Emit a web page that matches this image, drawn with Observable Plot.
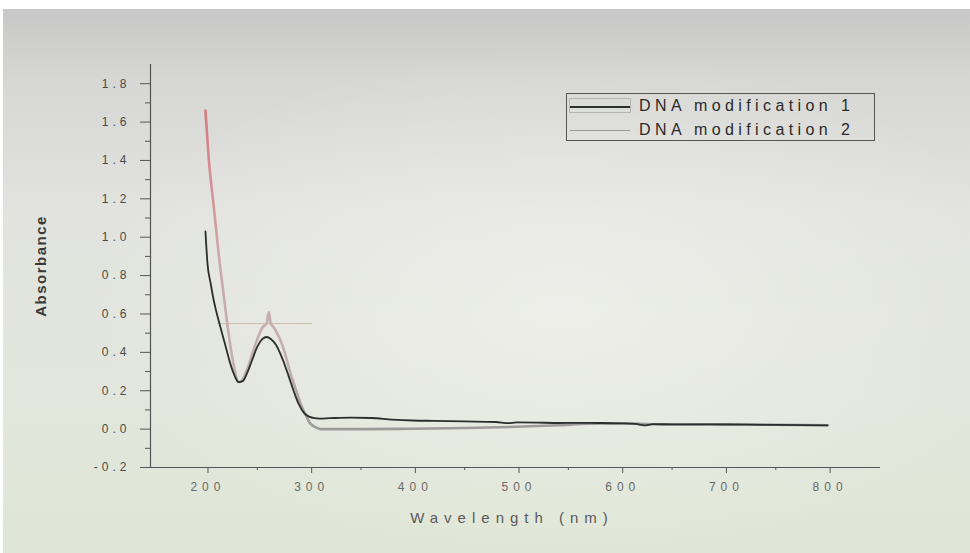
<!DOCTYPE html>
<html>
<head>
<meta charset="utf-8">
<script src="https://cdn.jsdelivr.net/npm/d3@7"></script>
<script src="https://cdn.jsdelivr.net/npm/@observablehq/plot@0.6"></script>
<style>
  html, body { margin: 0; padding: 0; }
  #wrap {
    position: relative; width: 970px; height: 553px; overflow: hidden;
    background:
      radial-gradient(ellipse at 58% 55%, rgba(250,250,246,0.45) 0%, rgba(250,250,246,0) 60%),
      linear-gradient(180deg, #c5c6c5 0%, #d6d7d4 14%, #e2e3df 38%, #e2e6dc 72%, #dfe6d6 100%);
    font-family: "Liberation Sans", Arial, sans-serif;
  }
  #topband { position: absolute; left: 0; top: 0; width: 970px; height: 9px; background: #fff; }
  #leftband { position: absolute; left: 0; top: 0; width: 3px; height: 553px; background: #fff; }
  #chart { position: absolute; left: 0; top: 0; }
  #chart svg { background: transparent; }
  #chart [aria-label="x-axis tick label"] text { fill: #6a6a6a; letter-spacing: 5px; }
  #chart [aria-label="y-axis tick label"] text { fill: #4a4a4a; letter-spacing: 4px; }
  #chart [aria-label="x-axis tick"], #chart [aria-label="y-axis tick"] { stroke: #555; }
  #ylabel {
    position: absolute; left: 40px; top: 266px; transform: translate(-50%, -50%) rotate(-90deg);
    font-size: 15px; font-weight: bold; color: #3a3a3a; letter-spacing: 1.5px; white-space: nowrap;
  }
  #xlabel {
    position: absolute; left: 512px; top: 517px; transform: translate(-50%, -50%);
    font-size: 15px; color: #5a5a5a; letter-spacing: 6px; white-space: nowrap;
  }
  #legend {
    position: absolute; left: 566px; top: 93px; width: 309px; height: 48px;
    border: 1px solid #555; box-sizing: border-box;
  }
  .row { position: absolute; left: 0; height: 20px; width: 100%; }
  .sw { position: absolute; left: 3px; width: 60px; top: 50%; }
  .lab { position: absolute; left: 72px; top: 0; font-size: 16px; line-height: 20px; color: #2a2a2a; letter-spacing: 4.4px; white-space: nowrap; }
</style>
</head>
<body>
<div id="wrap">
  <div id="topband"></div>
  <div id="leftband"></div>
  <div id="chart"></div>
  <div id="ylabel"></div>
  <div id="xlabel"></div>
  <div id="legend"></div>
</div>
<script>
// ---- data ----
const seriesNames = ["DNA modification 1", "DNA modification 2"];
const xTitle = "Wavelength (nm)";
const yTitle = "Absorbance";

const wavelength1 = [200, 202, 205, 208, 212, 216, 220, 224, 228, 232, 236, 240, 245, 250, 255, 259, 263, 268, 274, 280, 285, 290, 295, 300, 305, 310, 320, 340, 360, 380, 400, 420, 450, 480, 492, 500, 520, 540, 560, 580, 600, 615, 623, 632, 650, 680, 700, 750, 800];
const absorbance1 = [1.03, 0.86, 0.76, 0.67, 0.58, 0.50, 0.42, 0.34, 0.28, 0.245, 0.25, 0.29, 0.36, 0.43, 0.47, 0.48, 0.47, 0.44, 0.37, 0.28, 0.20, 0.13, 0.085, 0.065, 0.057, 0.055, 0.057, 0.06, 0.058, 0.05, 0.045, 0.043, 0.04, 0.037, 0.031, 0.035, 0.034, 0.032, 0.033, 0.032, 0.03, 0.027, 0.019, 0.026, 0.025, 0.025, 0.024, 0.022, 0.02];

const wavelength2 = [200, 203, 208, 213, 218, 222, 227, 232, 236, 240, 245, 250, 255, 259, 261, 263, 266, 270, 274, 278, 282, 287, 292, 297, 301, 306, 311, 350, 400, 450, 500, 540, 570, 600, 650, 700, 750, 800];
const absorbance2 = [1.66, 1.42, 1.16, 0.90, 0.68, 0.51, 0.34, 0.245, 0.26, 0.31, 0.39, 0.47, 0.53, 0.55, 0.61, 0.55, 0.53, 0.49, 0.44, 0.37, 0.29, 0.21, 0.13, 0.07, 0.03, 0.01, 0.0, 0.0, 0.002, 0.006, 0.012, 0.02, 0.028, 0.03, 0.024, 0.025, 0.023, 0.02];

// faint horizontal trace at the peak level
const peakTrace = [{y: 0.55, x1: 212, x2: 303}];

const xDomain = [147, 851];
const yDomain = [-0.2, 1.9];
const xTicks = [200, 300, 400, 500, 600, 700, 800];
const xMinorTicks = [250, 350, 450, 550, 650, 750];
const yTicks = [-0.2, 0.0, 0.2, 0.4, 0.6, 0.8, 1.0, 1.2, 1.4, 1.6, 1.8];
const yMinorTicks = [-0.1, 0.1, 0.3, 0.5, 0.7, 0.9, 1.1, 1.3, 1.5, 1.7];

const s1 = wavelength1.map((w, i) => ({w, a: absorbance1[i]}));
const s2 = wavelength2.map((w, i) => ({w, a: absorbance2[i]}));

const plot = Plot.plot({
  width: 970,
  height: 553,
  marginLeft: 150,
  marginRight: 90,
  marginTop: 64,
  marginBottom: 86,
  x: {domain: xDomain},
  y: {domain: yDomain},
  style: {background: "transparent", fontFamily: "'Liberation Sans', Arial, sans-serif"},
  marks: [
    Plot.ruleY(peakTrace, {y: "y", x1: "x1", x2: "x2", stroke: "#cbc2aa", strokeWidth: 1}),
    Plot.line(s2, {x: "w", y: "a", stroke: "url(#s2grad)", strokeWidth: 2.6, curve: "monotone-x"}),
    Plot.line(s1, {x: "w", y: "a", stroke: "#2a2f2c", strokeWidth: 1.8, curve: "monotone-x"}),
    Plot.axisX({ticks: xTicks, tickSize: 6, tickPadding: 9, fontSize: 12, dx: 2.5, tickFormat: d => String(d), label: null}),
    Plot.axisX({ticks: xMinorTicks, tickSize: 3, tickFormat: () => "", label: null}),
    Plot.axisY({ticks: yTicks, tickSize: 10, tickPadding: 10, fontSize: 12, tickFormat: d => d.toFixed(1), label: null}),
    Plot.axisY({ticks: yMinorTicks, tickSize: 5, tickFormat: () => "", label: null}),
    Plot.ruleX([xDomain[0]], {stroke: "#555", strokeWidth: 1.2}),
    Plot.ruleY([yDomain[0]], {stroke: "#555", strokeWidth: 1.2})
  ]
});

// gradient for series 2 (reddish at the top, grey-pink lower down)
const ys = plot.scale("y");
const defs = d3.select(plot).insert("defs", ":first-child");
const grad = defs.append("linearGradient")
  .attr("id", "s2grad").attr("gradientUnits", "userSpaceOnUse")
  .attr("x1", 0).attr("x2", 0)
  .attr("y1", ys.apply(1.7)).attr("y2", ys.apply(0));
grad.append("stop").attr("offset", "0%").attr("stop-color", "#d8787b");
grad.append("stop").attr("offset", "45%").attr("stop-color", "#cfa6a8");
grad.append("stop").attr("offset", "80%").attr("stop-color", "#c2b0b1");
grad.append("stop").attr("offset", "100%").attr("stop-color", "#9d9a9a");

document.getElementById("chart").appendChild(plot);
document.getElementById("xlabel").textContent = xTitle;
document.getElementById("ylabel").textContent = yTitle;

// legend
const legend = document.getElementById("legend");
const swatchStyles = [
  {line: "2px solid #2a2f2c", box: "1px solid #b5b5b5"},
  {line: "1.5px solid #9a9898", box: "none"}
];
seriesNames.forEach((name, i) => {
  const row = document.createElement("div");
  row.className = "row";
  row.style.top = (i === 0 ? 2 : 26) + "px";
  const box = document.createElement("div");
  box.style.cssText = `position:absolute;left:2px;width:62px;top:2px;height:15px;border:${swatchStyles[i].box};box-sizing:border-box;`;
  const sw = document.createElement("div");
  sw.className = "sw";
  sw.style.borderTop = swatchStyles[i].line;
  const lab = document.createElement("div");
  lab.className = "lab";
  lab.textContent = name;
  row.appendChild(box);
  row.appendChild(sw);
  row.appendChild(lab);
  legend.appendChild(row);
});
</script>
</body>
</html>
